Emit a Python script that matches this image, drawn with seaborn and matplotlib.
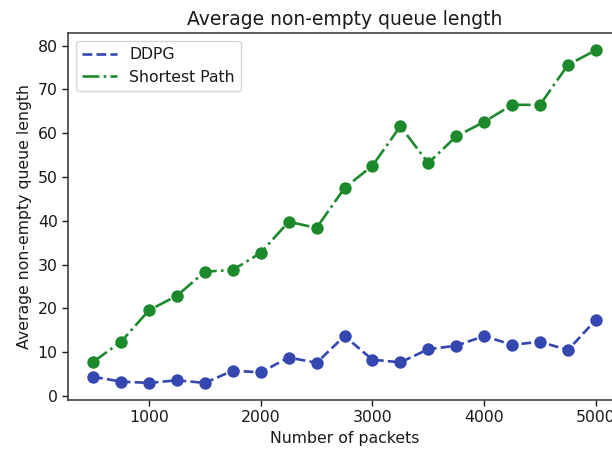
import matplotlib
matplotlib.use("Agg")
import matplotlib.pyplot as plt
import seaborn as sns
import pandas as pd

packets = [500, 750, 1000, 1250, 1500, 1750, 2000, 2250, 2500, 2750,
           3000, 3250, 3500, 3750, 4000, 4250, 4500, 4750, 5000]
ddpg = [4.4, 3.3, 3.0, 3.6, 3.0, 5.8, 5.4, 8.8, 7.6, 13.7,
        8.3, 7.7, 10.7, 11.5, 13.7, 11.7, 12.4, 10.5, 17.4]
shortest = [7.8, 12.4, 19.6, 22.9, 28.4, 28.8, 32.7, 39.8, 38.4, 47.5,
            52.6, 61.6, 53.2, 59.3, 62.6, 66.5, 66.5, 75.6, 79.0]

sns.set_style("ticks")
plt.rcParams['font.family'] = ['DejaVu Sans']
plt.rcParams['text.color'] = '#1a1a1a'
plt.rcParams['axes.labelcolor'] = '#1a1a1a'
plt.rcParams['xtick.color'] = '#1a1a1a'
plt.rcParams['ytick.color'] = '#1a1a1a'

df = pd.DataFrame({"packets": packets, "DDPG": ddpg, "Shortest Path": shortest})

blue = "#3447b0"
green = "#1c8a2c"

fig = plt.figure(figsize=(6.12, 4.53), dpi=100)
ax = fig.add_axes([68/612, 53/453, (621-68)/612, (400-33)/453])

sns.lineplot(data=df, x="packets", y="DDPG", ax=ax, color=blue,
             linestyle="--", linewidth=1.9, label="DDPG")
sns.lineplot(data=df, x="packets", y="Shortest Path", ax=ax, color=green,
             linestyle="-.", linewidth=1.9, label="Shortest Path")
sns.scatterplot(data=df, x="packets", y="DDPG", ax=ax, color=blue,
                s=80, linewidth=0, legend=False, zorder=3)
sns.scatterplot(data=df, x="packets", y="Shortest Path", ax=ax, color=green,
                s=80, linewidth=0, legend=False, zorder=3)

ax.set_title("Average non-empty queue length", fontsize=13.5)
ax.set_xlabel("Number of packets", fontsize=11.3)
ax.set_ylabel("Average non-empty queue length", fontsize=11.3)
ax.set_xticks([1000, 2000, 3000, 4000, 5000])
ax.set_yticks([0, 10, 20, 30, 40, 50, 60, 70, 80])
ax.tick_params(labelsize=11.3, length=4, width=1)
ax.set_xlim(275, 5225)
ax.set_ylim(-0.9, 82.9)
for s in ax.spines.values():
    s.set_linewidth(1.1)
    s.set_color("#333333")
leg = ax.legend(loc="upper left", fontsize=11.3, handlelength=2.2)

fig.savefig("out.png", dpi=100)
